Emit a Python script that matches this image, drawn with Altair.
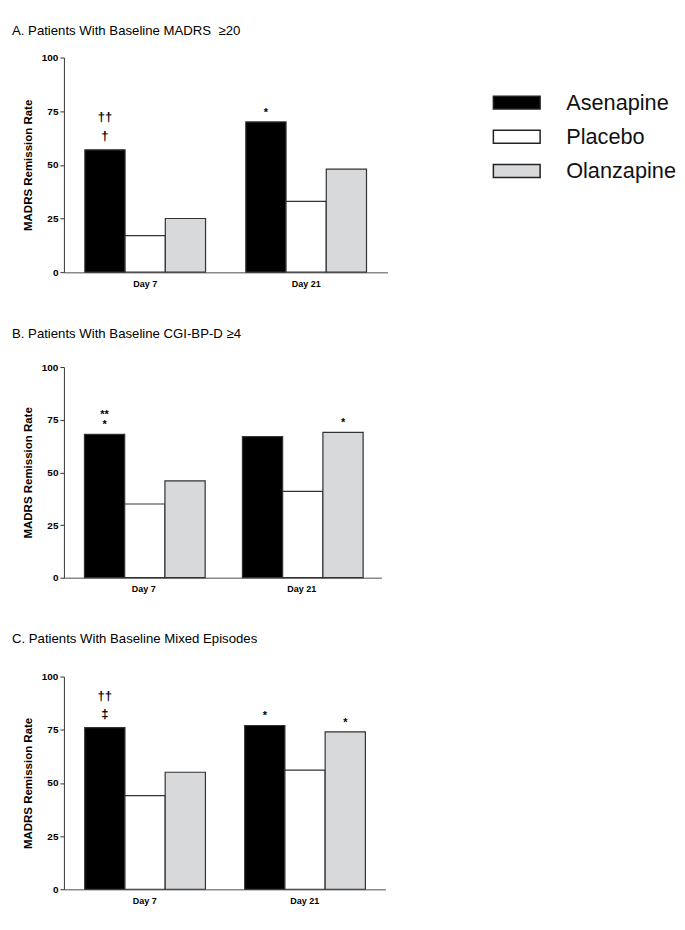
import altair as alt
import pandas as pd

FONT = "Liberation Sans"

days = ["Day 7", "Day 21"]
series = ["Asenapine", "Placebo", "Olanzapine"]
series_colors = ["#000000", "#ffffff", "#d8d9db"]
y_ticks = [0, 25, 50, 75, 100]

panel_ids = ["A", "B", "C"]
panel_titles = [
    "A. Patients With Baseline MADRS\u00a0 \u226520",
    "B. Patients With Baseline CGI-BP-D \u22654",
    "C. Patients With Baseline Mixed Episodes",
]

# MADRS remission rate (%) per panel, ordered [Day 7, Day 21]
asenapine = {"A": [57, 70], "B": [68, 67], "C": [76, 77]}
placebo = {"A": [17, 33], "B": [35, 41], "C": [44, 56]}
olanzapine = {"A": [25, 48], "B": [46, 69], "C": [55, 74]}

# significance markers (lines listed top to bottom)
annot_panel = ["A", "A", "B", "B", "C", "C", "C"]
annot_day = ["Day 7", "Day 21", "Day 7", "Day 21", "Day 7", "Day 21", "Day 21"]
annot_series = ["Asenapine", "Asenapine", "Asenapine", "Olanzapine", "Asenapine", "Asenapine", "Olanzapine"]
annot_text = ["\u2020\u2020\n\u2020", "*", "**\n*", "*", "\u2020\u2020\n\u2021", "*", "*"]

# layout per panel
panel_width = {"A": 324, "B": 318, "C": 322}
panel_height = {"A": 215, "B": 211, "C": 213}
panel_title_offset = {"A": 4.8, "B": 11, "C": 15}
panel_line_height = {"A": 19, "B": 10.5, "C": 18}

legend = alt.Legend(
    orient="none", legendX=439.5, legendY=31.2, title=None,
    symbolType="M-1.8,-0.5L1.8,-0.5L1.8,0.5L-1.8,0.5Z", symbolSize=676,
    symbolStrokeColor="#222222", symbolStrokeWidth=1.5, symbolOpacity=1,
    labelFontSize=21.75, labelFont=FONT, labelColor="#111111", labelOffset=35.5,
    rowPadding=8.2, padding=0, labelLimit=300,
)


def make_panel(pid, title):
    vals = {"Asenapine": asenapine[pid], "Placebo": placebo[pid], "Olanzapine": olanzapine[pid]}
    rows = [{"day": d, "series": s, "value": v} for s in series for d, v in zip(days, vals[s])]
    df = pd.DataFrame(rows)

    xenc = alt.X("day:N", sort=days,
                 scale=alt.Scale(domain=days, paddingInner=0.25, paddingOuter=0.13),
                 axis=alt.Axis(title=None, labelAngle=0, ticks=False, domainColor="#8a8a8a",
                               domainWidth=1.5, labelFontSize=9, labelFontWeight="bold",
                               labelColor="#000", labelPadding=7, labelFont=FONT))
    xoff = alt.XOffset("series:N", sort=series,
                       scale=alt.Scale(domain=series, paddingInner=0, paddingOuter=0))
    yenc = alt.Y("value:Q", scale=alt.Scale(domain=[0, 100], nice=False),
                 axis=alt.Axis(values=y_ticks, title="MADRS Remission Rate", grid=False,
                               titleFontSize=11.5, titleFontWeight="bold", titleColor="#000",
                               titleFont=FONT, titlePadding=8,
                               labelFontSize=10, labelFontWeight="bold", labelColor="#000",
                               labelFont=FONT, labelPadding=2, tickSize=4,
                               domainColor="#333", tickColor="#333"))

    bars = alt.Chart(df).mark_bar(stroke="#333333", strokeWidth=1.2).encode(
        x=xenc, xOffset=xoff, y=yenc,
        color=alt.Color("series:N", sort=series,
                        scale=alt.Scale(domain=series, range=series_colors), legend=legend),
    )

    layers = [bars]
    arows = []
    for p, d, s, t in zip(annot_panel, annot_day, annot_series, annot_text):
        if p == pid:
            v = vals[s][days.index(d)]
            kind = "dag" if ("\u2020" in t or "\u2021" in t) else "star"
            lines = t.split("\n")[::-1]  # level 0 = line nearest the bar
            for k, line in enumerate(lines):
                arows.append({"day": d, "series": s, "value": v, "label": line,
                              "kind": kind, "level": k})
    adf = pd.DataFrame(arows)
    styles = {"dag": dict(fontSize=13, fontWeight="bold", dy=-7),
              "star": dict(fontSize=11, fontWeight="bold", dy=-4)}
    for kind in ["dag", "star"]:
        for k in [0, 1]:
            sub = adf[(adf["kind"] == kind) & (adf["level"] == k)]
            if len(sub) == 0:
                continue
            st = styles[kind]
            layers.append(alt.Chart(sub).mark_text(
                font=FONT, fontSize=st["fontSize"], fontWeight=st["fontWeight"],
                baseline="bottom", dy=st["dy"] - k * panel_line_height[pid],
                color="#000").encode(x=xenc, xOffset=xoff, y=yenc, text="label:N"))

    return alt.layer(*layers).properties(
        width=panel_width[pid], height=panel_height[pid],
        title=alt.TitleParams(text=title, anchor="start", frame="group", dx=-52,
                              offset=panel_title_offset[pid], fontSize=13.2, fontWeight="normal",
                              baseline="alphabetic", color="#000", font=FONT),
    )


panels = [make_panel(p, t) for p, t in zip(panel_ids, panel_titles)]

chart = alt.concat(*panels, columns=1, align="none", spacing=38).properties(
    padding={"left": 4, "top": 14.9, "right": 0, "bottom": 0}
).configure(font=FONT).configure_view(stroke=None)

chart.save("out.html", embed_options={"renderer": "svg", "actions": False})
